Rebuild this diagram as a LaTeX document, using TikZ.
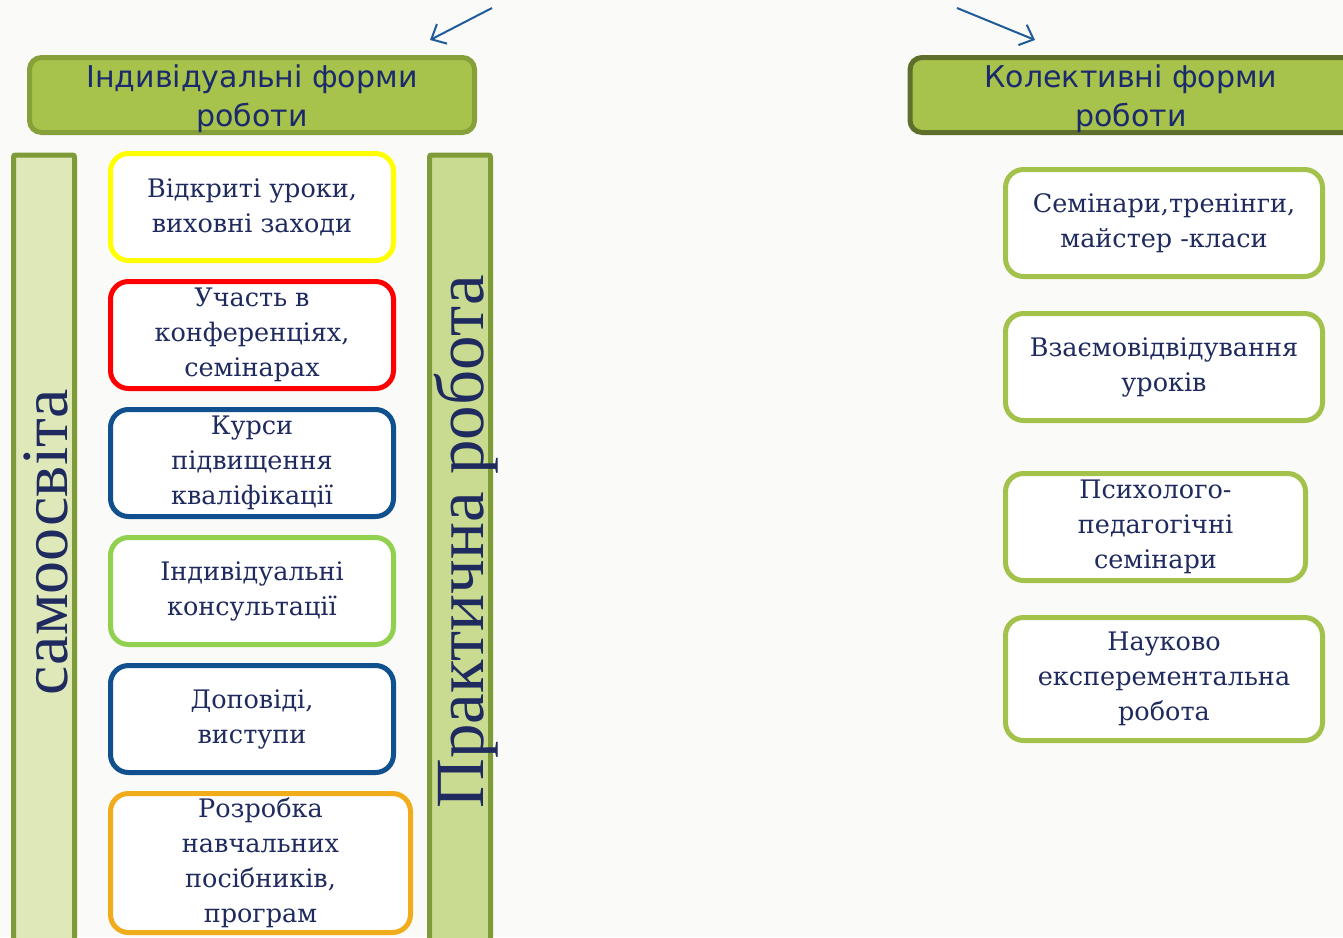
\documentclass[tikz,border=0pt]{standalone}
\usepackage{fontspec}
\setmainfont{Liberation Serif}
\newfontfamily\bodyfont{DejaVu Serif}
\newfontfamily\hdrfont{DejaVu Sans}
\usetikzlibrary{arrows.meta}
\definecolor{bgc}{HTML}{FAFAF8}
\definecolor{navy}{HTML}{1F2B5E}
\definecolor{hdrtext}{HTML}{1A2A6C}
\definecolor{hdrfill}{HTML}{A8C34B}
\definecolor{hdrborderL}{HTML}{86A03A}
\definecolor{hdrborderR}{HTML}{5E6E2B}
\definecolor{barborder}{HTML}{7F9B37}
\definecolor{barfillL}{HTML}{DEE8B9}
\definecolor{barfillR}{HTML}{C9DA91}
\definecolor{arrowc}{HTML}{1F5C99}
\definecolor{cyellow}{HTML}{FFFF00}
\definecolor{cred}{HTML}{FF0000}
\definecolor{cblue}{HTML}{10508F}
\definecolor{clgreen}{HTML}{92D050}
\definecolor{corange}{HTML}{F0AC1A}
\definecolor{cgreen}{HTML}{A3C24C}
\tikzset{
  itembox/.style={draw, fill=white, line width=5pt, rounded corners=18pt,
    text=navy, align=center, font=\bodyfont\fontsize{25.5}{35}\selectfont, inner sep=0pt},
  hdrbox/.style={fill=hdrfill, line width=5pt, rounded corners=12pt, inner sep=0pt},
  hdrlabel/.style={text=hdrtext, align=center, font=\hdrfont\fontsize{30}{39}\selectfont, inner sep=0pt},
  barbox/.style={draw=barborder, line width=5pt, rounded corners=2pt, inner sep=0pt},
  vlabel/.style={rotate=90, anchor=base, text=navy, inner sep=0pt},
  pointer/.style={draw=arrowc, line width=2pt, -{Straight Barb[length=12pt,width=22pt,line width=2pt]}}
}
\begin{document}
\begin{tikzpicture}[x=1pt,y=-1pt]
\useasboundingbox (0,0) rectangle (1343,937);
\clip (0,0) rectangle (1343,937);
\fill[bgc] (0,0) rectangle (1343,937);

% arrows
\coordinate (a1s) at (492,8);
\coordinate (a1e) at (430,40);
\coordinate (a2s) at (957,8);
\coordinate (a2e) at (1035,40);
\draw[pointer] (a1s) -- (a1e);
\draw[pointer] (a2s) -- (a2e);

% headers
\node[hdrbox, draw=hdrborderL, minimum width=445pt, minimum height=75pt] (hl) at (252,95) {};
\node[hdrlabel] (hlt) at (252,99) {Індивідуальні форми\\роботи};
\node[hdrbox, draw=hdrborderR, minimum width=460pt, minimum height=75pt] (hr) at (1140,95) {};
\node[hdrlabel] (hrt) at (1131,99) {Колективні форми\\роботи};

% vertical bars
\node[barbox, fill=barfillL, minimum width=61pt, minimum height=800pt] (bl) at (44,555) {};
\node[barbox, fill=barfillR, minimum width=61pt, minimum height=800pt] (br) at (460,555) {};
\node[vlabel, font=\fontsize{66}{70}\selectfont] (blt) at (67,542) {самоосвіта};
\node[vlabel, font=\fontsize{69}{72}\selectfont] (brt) at (483,542) {Практична робота};

% left column
\node[itembox, draw=cyellow, minimum width=283pt, minimum height=107pt] (b1) at (252,207) {Відкриті уроки,\\виховні заходи};
\node[itembox, draw=cred, minimum width=283pt, minimum height=107pt] (b2) at (252,335) {Участь в\\конференціях,\\семінарах};
\node[itembox, draw=cblue, minimum width=283pt, minimum height=107pt] (b3) at (252,463) {Курси\\підвищення\\кваліфікації};
\node[itembox, draw=clgreen, minimum width=283pt, minimum height=107pt] (b4) at (252,591) {Індивідуальні\\консультації};
\node[itembox, draw=cblue, minimum width=283pt, minimum height=107pt] (b5) at (252,719) {Доповіді,\\виступи};
\node[itembox, draw=corange, minimum width=300pt, minimum height=139pt] (b6) at (260.5,863) {Розробка\\навчальних\\посібників,\\програм};

% right column
\node[itembox, draw=cgreen, minimum width=317pt, minimum height=107pt] (r1) at (1164,223) {Семінари,тренінги,\\майстер -класи};
\node[itembox, draw=cgreen, minimum width=317pt, minimum height=107pt] (r2) at (1164,367) {Взаємовідвідування\\уроків};
\node[itembox, draw=cgreen, minimum width=300pt, minimum height=107pt] (r3) at (1155.5,527) {Психолого-\\педагогічні\\семінари};
\node[itembox, draw=cgreen, minimum width=317pt, minimum height=123pt] (r4) at (1164,679) {Науково\\експерементальна\\робота};
\end{tikzpicture}
\end{document}
